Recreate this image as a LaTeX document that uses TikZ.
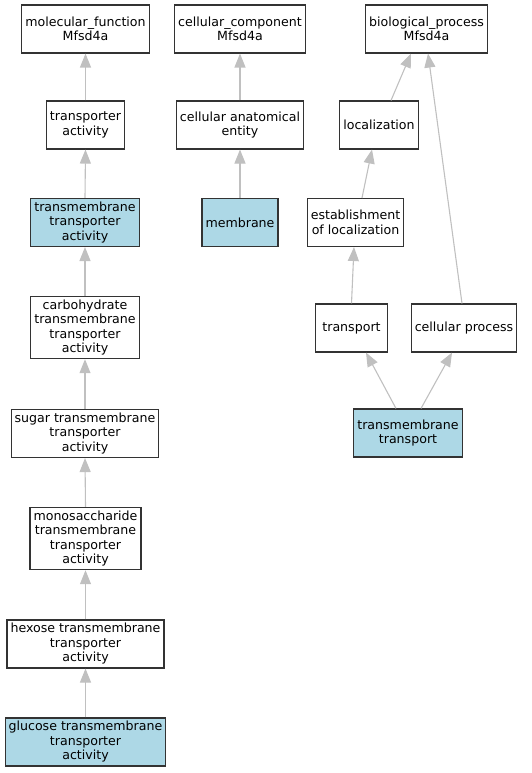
\documentclass[tikz,border=0pt]{standalone}
\usepackage{fontspec}
\newfontfamily\dejavu{DejaVu Sans}
\usetikzlibrary{arrows.meta}
\definecolor{lightblue}{HTML}{ADD8E6}
\definecolor{edgegray}{HTML}{C0C0C0}
\definecolor{boxgray}{HTML}{333333}

\begin{document}
\begin{tikzpicture}[x = 1pt, y = -1pt,
    v/.style = {draw=boxgray, line width=1.1pt, rectangle, align=center, inner xsep=3.5pt,
                minimum width=72pt, minimum height=48pt, font=\dejavu\fontsize{12.6}{14.5}\selectfont},
    hl/.style = {v, fill=lightblue},
    e/.style = {draw=edgegray, line width=1.1pt, -{Triangle[length=14pt, width=11pt]}}]
  \useasboundingbox (0,0) rectangle (531,773);
  % molecular function column
  \node[v]  (mf)    at (85.5,29)   {molecular\_function\\Mfsd4a};
  \node[v]  (ta)    at (85.5,125)  {transporter\\activity};
  \node[hl] (tta)   at (85,222.5)  {transmembrane\\transporter\\activity};
  \node[v]  (carb)  at (85,327.5)  {carbohydrate\\transmembrane\\transporter\\activity};
  \node[v]  (sugar) at (85,433.5)  {sugar transmembrane\\transporter\\activity};
  \node[v]  (mono)  at (85.5,538.5) {monosaccharide\\transmembrane\\transporter\\activity};
  \node[v]  (hex)   at (85.5,644)  {hexose transmembrane\\transporter\\activity};
  \node[hl] (glc)   at (85.5,742)  {glucose transmembrane\\transporter\\activity};
  % cellular component column
  \node[v]  (cc)    at (240,29)    {cellular\_component\\Mfsd4a};
  \node[v]  (cae)   at (240,125)   {cellular anatomical\\entity};
  \node[hl] (mem)   at (240,222.5) {membrane};
  % biological process
  \node[v]  (bp)    at (426.5,29)  {biological\_process\\Mfsd4a};
  \node[v]  (loc)   at (379,125)   {localization};
  \node[v]  (est)   at (355.5,222.5) {establishment\\of localization};
  \node[v]  (tr)    at (351.5,328) {transport};
  \node[v]  (cp)    at (464,328)   {cellular process};
  \node[hl] (tmt)   at (408,433)   {transmembrane\\transport};

  \draw[e] (ta.north) -- (mf.south);
  \draw[e] (tta.north) -- (ta.south);
  \draw[e] (carb.north) -- (tta.south);
  \draw[e] (sugar.north) -- (carb.south);
  \draw[e] (mono.north) -- (sugar.south);
  \draw[e] (hex.north) -- (mono.south);
  \draw[e] (glc.north) -- (hex.south);
  \draw[e] (cae.north) -- (cc.south);
  \draw[e] (mem.north) -- (cae.south);
  \draw[e] ([xshift=12pt]loc.north) -- ([xshift=-15.5pt]bp.south);
  \draw[e] ([xshift=6.5pt]est.north) -- ([xshift=-7pt]loc.south);
  \draw[e] (tr.north) -- ([xshift=-1.5pt]est.south);
  \draw[e] ([xshift=-2pt]cp.north) -- ([xshift=1.5pt]bp.south);
  \draw[e] ([xshift=-12pt]tmt.north) -- ([xshift=14.5pt]tr.south);
  \draw[e] ([xshift=13pt]tmt.north) -- ([xshift=-12pt]cp.south);
\end{tikzpicture}
\end{document}
